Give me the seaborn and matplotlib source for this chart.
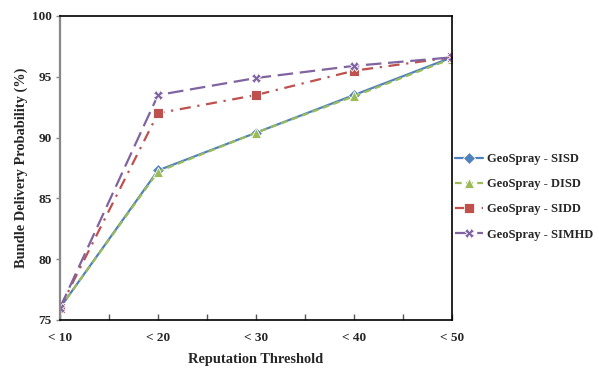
import numpy as np
import pandas as pd
import matplotlib
matplotlib.use("Agg")
import matplotlib.pyplot as plt
import seaborn as sns

# chart values
thresholds = ["< 10", "< 20", "< 30", "< 40", "< 50"]
sisd = [76.0, 87.3, 90.4, 93.5, 96.6]
disd = [76.0, 87.2, 90.4, 93.4, 96.5]
sidd = [76.0, 92.0, 93.5, 95.5, 96.6]
simhd = [76.0, 93.5, 94.9, 95.9, 96.6]
series_names = ["GeoSpray - SISD", "GeoSpray - DISD", "GeoSpray - SIDD", "GeoSpray - SIMHD"]

sns.set_style("white")
plt.rcParams['font.family'] = ['Liberation Serif', 'DejaVu Serif']
plt.rcParams['font.weight'] = 'bold'

rows = []
for name, vals in zip(series_names, [sisd, disd, sidd, simhd]):
    for i, v in enumerate(vals):
        rows.append({"pos": i, "value": v, "series": name})
df = pd.DataFrame(rows)

palette = {
    "GeoSpray - SISD": "#4F81BD",
    "GeoSpray - DISD": "#9BBB59",
    "GeoSpray - SIDD": "#C0504D",
    "GeoSpray - SIMHD": "#8064A2",
}
dashes = {
    "GeoSpray - SISD": "",
    "GeoSpray - DISD": (3, 2),
    "GeoSpray - SIDD": (5, 3, 1, 3),
    "GeoSpray - SIMHD": (7, 3),
}
markers = {
    "GeoSpray - SISD": "D",
    "GeoSpray - DISD": "^",
    "GeoSpray - SIDD": "s",
    "GeoSpray - SIMHD": "X",
}

fig = plt.figure(figsize=(5.99, 3.72), dpi=100)
ax = fig.add_axes([0.1002, 0.1398, 0.6544, 0.8172])

sns.lineplot(data=df, x="pos", y="value", hue="series", style="series",
             palette=palette, dashes=dashes, markers=markers, markersize=6.5,
             linewidth=1.6, markeredgewidth=0.6, ax=ax)

ax.set_xlim(0, 4)
ax.set_ylim(75, 100)
ax.set_xticks(range(len(thresholds)))
ax.set_xticklabels(thresholds, fontsize=9.5, fontweight='bold')
ax.set_xticks(np.arange(0.5, 4, 1), minor=True)
ax.set_yticks([75, 80, 85, 90, 95, 100])
ax.set_yticklabels(["75", "80", "85", "90", "95", "100"], fontsize=9.5, fontweight='bold')
ax.tick_params(axis='x', which='both', direction='in', length=4, width=1, color='#555555', pad=9)
ax.tick_params(axis='y', direction='out', length=3, width=1, color='#888888', pad=3)
ax.yaxis.set_ticks_position('left')
ax.xaxis.set_ticks_position('bottom')

for side in ["top", "right", "bottom"]:
    ax.spines[side].set_color('black')
    ax.spines[side].set_linewidth(1.2)
ax.spines["left"].set_color('#888888')
ax.spines["left"].set_linewidth(1.6)

ax.set_xlabel("Reputation Threshold", fontsize=10.4, fontweight='bold', labelpad=6)
ax.set_ylabel("Bundle Delivery Probability (%)", fontsize=10.4, fontweight='bold', labelpad=3)

leg = ax.legend(loc='center left', bbox_to_anchor=(1.0, 0.405), frameon=False,
                fontsize=9, handlelength=2.3, handletextpad=0.3, labelspacing=1.05,
                borderaxespad=0.1, borderpad=0.1)
for t in leg.get_texts():
    t.set_fontweight('bold')

fig.savefig("out.png", dpi=100)
